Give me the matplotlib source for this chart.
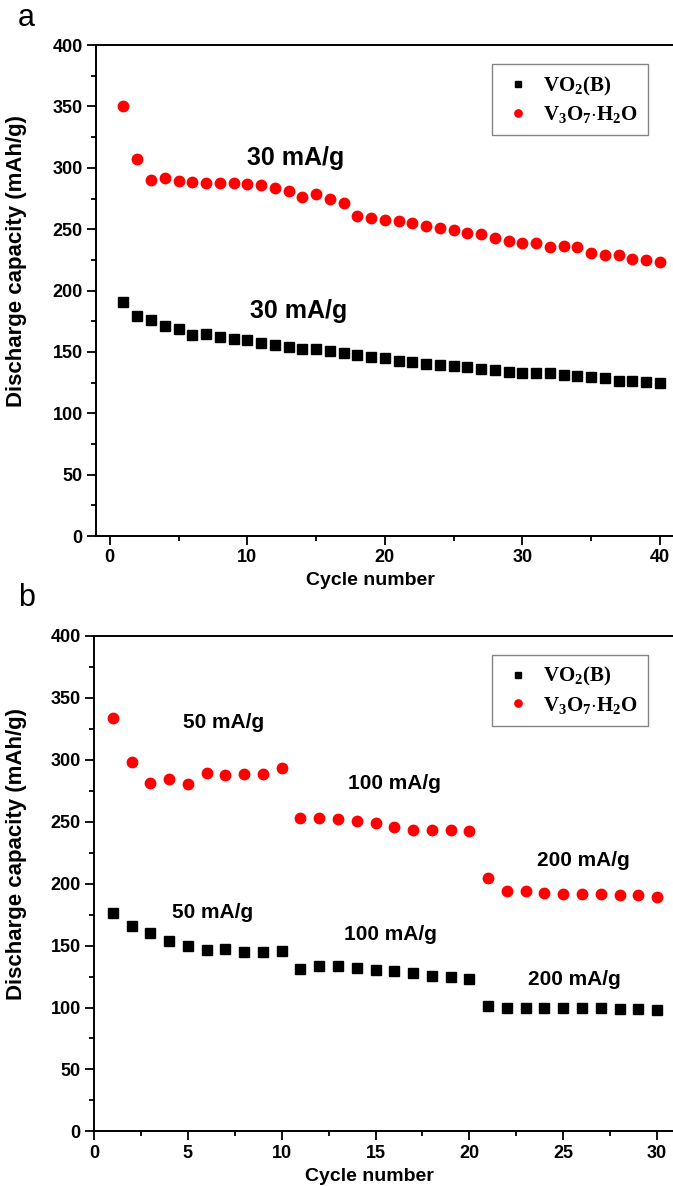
import matplotlib
matplotlib.use("Agg")
import matplotlib.pyplot as plt
from matplotlib.ticker import MultipleLocator

plt.rcParams["font.family"] = ["Liberation Sans", "DejaVu Sans"]
plt.rcParams["mathtext.fontset"] = "custom"
plt.rcParams["mathtext.rm"] = "Liberation Serif:bold"
plt.rcParams["mathtext.it"] = "Liberation Serif:bold"
plt.rcParams["mathtext.bf"] = "Liberation Serif:bold"

# panel a: cycling at 30 mA/g
cycles_a = list(range(1, 41))
vo2_a = [191, 179.5, 175.9, 171.5, 168.5, 163.6, 164.9, 162.2, 160.5, 160,
         157.5, 155.9, 154.2, 152.6, 152.6, 151, 148.8, 147.4, 146, 144.9,
         142.5, 142.2, 140.3, 139.7, 138.9, 137.5, 136.4, 135.3, 134, 133.2,
         132.9, 132.6, 131.2, 130.1, 129.3, 128.8, 126.3, 126.3, 125.5, 124.7]
v3o7_a = [350, 306.8, 289.7, 291.6, 289.4, 288.3, 287.5, 287.8, 287.5, 287,
          286.4, 283.7, 281.5, 276, 278.3, 274.5, 271.5, 260.6, 259.2, 257.6,
          256.5, 254.9, 252.2, 250.8, 249.5, 246.7, 245.7, 242.7, 240.2, 238.9,
          238.6, 235.3, 236.1, 235.3, 230.7, 229.3, 229.1, 225.8, 225.3, 223.1]

# panel b: rate capability
cycles_b = list(range(1, 31))
vo2_b = [176.5, 166, 160, 154, 149.7, 146.8, 147, 145.1, 144.6, 145.4,
         130.8, 133.2, 133.2, 131.9, 130.5, 129.2, 127.6, 125.7, 124.9, 123.2,
         101.4, 100, 100, 100, 99.7, 99.2, 99.2, 98.6, 98.4, 97.8]
v3o7_b = [333.8, 298, 281, 284, 280.2, 289.4, 287.7, 288.5, 288.3, 293.1,
          253, 253.2, 251.9, 250.5, 248.7, 245.4, 243, 243.5, 243.5, 242.5,
          204.2, 194, 193.8, 192.7, 191.6, 191.6, 191.4, 190.5, 190.5, 189.2]

labels = [r"$\mathrm{VO_2(B)}$", r"$\mathrm{V_3O_7{\cdot}H_2O}$"]

# (text, x, y) for current-density annotations
notes_a = [("30 mA/g", 13.5, 308), ("30 mA/g", 13.7, 183)]
notes_b = [("50 mA/g", 6.9, 330), ("100 mA/g", 16.0, 281), ("200 mA/g", 26.1, 219),
           ("50 mA/g", 6.3, 177), ("100 mA/g", 15.8, 159), ("200 mA/g", 25.6, 123)]


def style_axes(ax, xlim, xmajor, xminor, ylab_x):
    ax.set_xlim(*xlim)
    ax.set_ylim(0, 400)
    ax.xaxis.set_major_locator(MultipleLocator(xmajor))
    ax.xaxis.set_minor_locator(MultipleLocator(xminor))
    ax.yaxis.set_major_locator(MultipleLocator(50))
    ax.yaxis.set_minor_locator(MultipleLocator(25))
    ax.spines["right"].set_visible(False)
    for s in ("left", "bottom", "top"):
        ax.spines[s].set_linewidth(1.4)
    ax.tick_params(which="both", direction="out", width=1.3, top=False, right=False)
    ax.tick_params(which="major", length=6.5, labelsize=13, pad=3)
    ax.tick_params(which="minor", length=3.5)
    for lab in ax.get_xticklabels() + ax.get_yticklabels():
        lab.set_fontweight("bold")
    ax.set_xlabel("Cycle number", fontsize=14, fontweight="bold")
    ax.set_ylabel("Discharge capacity (mAh/g)", fontsize=16, fontweight="bold")
    ax.xaxis.set_label_coords(0.476, -0.073)
    ax.yaxis.set_label_coords(ylab_x, 0.56)
    leg = ax.legend(loc="upper right", bbox_to_anchor=(0.957, 0.961), borderaxespad=0,
                    fontsize=15, markerscale=0.7, frameon=True, fancybox=False,
                    handletextpad=0.45, borderpad=0.5, labelspacing=0.3,
                    handlelength=1.5)
    leg.get_frame().set_edgecolor("#666666")
    leg.get_frame().set_linewidth(1.0)


fig = plt.figure(figsize=(6.73, 11.86), dpi=100)
ax_a = fig.add_axes([0.1426, 0.548, 0.8574, 0.414])
ax_b = fig.add_axes([0.1397, 0.046, 0.8603, 0.418])

ax_a.plot(cycles_a, vo2_a, "s", color="black", markersize=6.5, label=labels[0])
ax_a.plot(cycles_a, v3o7_a, "o", color="#ff0000", markersize=7.5, label=labels[1])
style_axes(ax_a, (-1.0, 40.95), 10, 5, -0.12)
for txt, x, y in notes_a:
    ax_a.text(x, y, txt, fontsize=18, fontweight="bold", ha="center", va="center")

ax_b.plot(cycles_b, vo2_b, "s", color="black", markersize=6.5, label=labels[0])
ax_b.plot(cycles_b, v3o7_b, "o", color="#ff0000", markersize=7.5, label=labels[1])
style_axes(ax_b, (0, 30.85), 5, 2.5, -0.116)
for txt, x, y in notes_b:
    ax_b.text(x, y, txt, fontsize=15, fontweight="bold", ha="center", va="center")

fig.text(0.027, 0.985, "a", fontsize=22, ha="left", va="center")
fig.text(0.027, 0.496, "b", fontsize=22, ha="left", va="center")

fig.savefig("out.png", dpi=100)
